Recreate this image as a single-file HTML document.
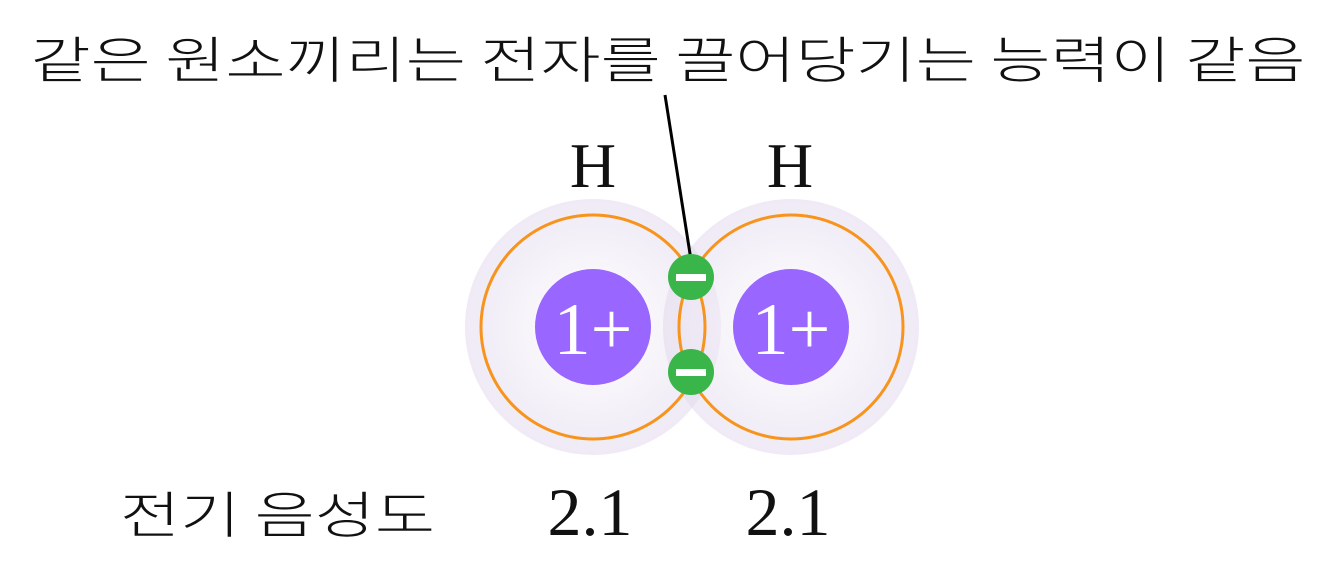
<!DOCTYPE html>
<html><head><meta charset="utf-8"><style>
body{margin:0;background:#fff;width:1338px;height:573px;overflow:hidden}
svg{display:block}
</style></head><body>
<svg width="1338" height="573" viewBox="0 0 1338 573" xmlns="http://www.w3.org/2000/svg">
<defs>
<radialGradient id="g" cx="0.5" cy="0.5" r="0.5">
<stop offset="0" stop-color="#ffffff" stop-opacity="0.9"/>
<stop offset="0.45" stop-color="#f4f0f8" stop-opacity="0.6"/>
<stop offset="1" stop-color="#e2d9ed" stop-opacity="0.55"/>
</radialGradient>
</defs>
<text x="668" y="78" text-anchor="middle" font-family="'Noto Sans CJK KR','NanumGothic',sans-serif" font-weight="300" font-size="50" fill="#111" textLength="1275" lengthAdjust="spacingAndGlyphs">같은 원소끼리는 전자를 끌어당기는 능력이 같음</text>
<circle cx="593" cy="327" r="128" fill="url(#g)"/>
<circle cx="791" cy="327" r="128" fill="url(#g)"/>
<circle cx="593" cy="327" r="112" fill="none" stroke="#f7941d" stroke-width="3"/>
<circle cx="791" cy="327" r="112" fill="none" stroke="#f7941d" stroke-width="3"/>
<line x1="665" y1="95" x2="691" y2="260" stroke="#000" stroke-width="3"/>
<circle cx="593" cy="327" r="58" fill="#9966ff"/>
<circle cx="791" cy="327" r="58" fill="#9966ff"/>
<text x="593" y="354" text-anchor="middle" font-family="'Liberation Serif',serif" font-size="74" fill="#fff">1+</text>
<text x="791" y="354" text-anchor="middle" font-family="'Liberation Serif',serif" font-size="74" fill="#fff">1+</text>
<circle cx="691" cy="277" r="23" fill="#39b54a"/>
<circle cx="691" cy="372" r="23" fill="#39b54a"/>
<rect x="676" y="274" width="30" height="7" fill="#fff"/>
<rect x="676" y="369" width="30" height="7" fill="#fff"/>
<text x="593" y="187" text-anchor="middle" font-family="'Liberation Serif',serif" font-size="64" fill="#111">H</text>
<text x="790" y="187" text-anchor="middle" font-family="'Liberation Serif',serif" font-size="64" fill="#111">H</text>
<text x="590" y="535" text-anchor="middle" font-family="'Liberation Serif',serif" font-size="68" fill="#111">2.1</text>
<text x="788" y="535" text-anchor="middle" font-family="'Liberation Serif',serif" font-size="68" fill="#111">2.1</text>
<text x="120" y="533" font-family="'Noto Sans CJK KR','NanumGothic',sans-serif" font-weight="300" font-size="50" fill="#111" textLength="315" lengthAdjust="spacingAndGlyphs">전기 음성도</text>
</svg>
</body></html>
